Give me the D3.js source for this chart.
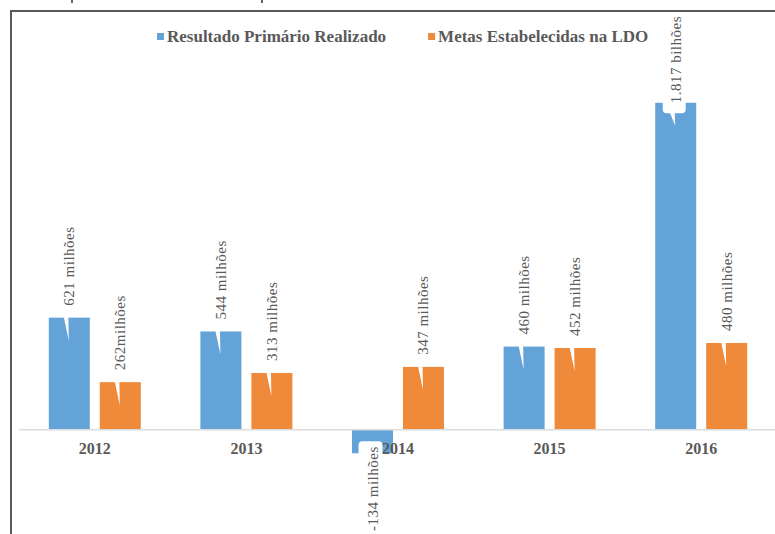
<!DOCTYPE html>
<html>
<head>
<meta charset="utf-8">
<script src="https://cdn.jsdelivr.net/npm/d3@7"></script>
<style>
  body { margin: 0; background: #fff; }
  text { font-family: "Liberation Serif", "Times New Roman", serif; }
</style>
</head>
<body>
<div id="chart"></div>
<script>
// data
var years = ["2012", "2013", "2014", "2015", "2016"];
var series = ["Resultado Primário Realizado", "Metas Estabelecidas na LDO"];
var realizado = [621, 544, -134, 460, 1817];
var metas = [262, 313, 347, 452, 480];
var realizadoLabels = ["621 milhões", "544 milhões", "-134 milhões", "460 milhões", "1.817 bilhões"];
var metasLabels = ["262milhões", "313 milhões", "347 milhões", "452 milhões", "480 milhões"];
var colors = ["#64a3d8", "#f08a3b"];

var width = 775, height = 534;

var svg = d3.select("#chart").append("svg")
    .attr("width", width)
    .attr("height", height);

// frame (cut from a larger page)
svg.append("line").attr("x1", 10).attr("x2", width).attr("y1", 11).attr("y2", 11)
    .attr("stroke", "#5a5a5a").attr("stroke-width", 2);
svg.append("line").attr("x1", 11).attr("x2", 11).attr("y1", 10).attr("y2", height)
    .attr("stroke", "#5a5a5a").attr("stroke-width", 2);
[72, 262].forEach(function(x) {
  svg.append("line").attr("x1", x).attr("x2", x).attr("y1", 0).attr("y2", 3)
      .attr("stroke", "#333").attr("stroke-width", 1.5);
});

//scales
var x0 = d3.scaleBand().domain(years).range([19, 777]);
var x1 = d3.scaleBand().domain(series).range([x0.bandwidth() / 2 - 46, x0.bandwidth() / 2 + 46]).paddingInner(0.196);
var y = d3.scaleLinear().domain([-600, 2300]).range([537, 16]);
var plotTop = 16;

var data = [];
years.forEach(function(yr, i) {
  data.push({year: yr, s: series[0], v: realizado[i], label: realizadoLabels[i], c: colors[0]});
  data.push({year: yr, s: series[1], v: metas[i], label: metasLabels[i], c: colors[1]});
});

//bars
svg.append("g").selectAll("rect")
    .data(data)
    .join("rect")
    .attr("x", function(d) { return x0(d.year) + x1(d.s); })
    .attr("width", x1.bandwidth())
    .attr("y", function(d) { return y(Math.max(0, d.v)); })
    .attr("height", function(d) { return Math.abs(y(d.v) - y(0)); })
    .attr("fill", function(d) { return d.c; });

//baseline
svg.append("line")
    .attr("x1", 19).attr("x2", width)
    .attr("y1", y(0) + 0.5).attr("y2", y(0) + 0.5)
    .attr("stroke", "#dcdcdc").attr("stroke-width", 1.5);

//data labels with callouts
var lab = svg.append("g");
data.forEach(function(d) {
  var cx = x0(d.year) + x1(d.s) + x1.bandwidth() / 2;
  var t = lab.append("text")
      .attr("font-size", 15)
      .attr("fill", "#595959")
      .attr("letter-spacing", 0.5)
      .text(d.label);
  var len = t.node().getComputedTextLength();
  var start, end, boxTop, boxBottom;
  if (d.v >= 0) {
    var top = y(d.v);
    start = Math.max(top - 12, plotTop + len);
    end = start - len;
    boxTop = end - 4;
    boxBottom = start + 10;
    t.attr("text-anchor", "start");
    // callout box + pointer (white)
    lab.insert("rect", "text")
        .attr("x", cx - 13).attr("width", 23)
        .attr("y", boxTop).attr("height", boxBottom - boxTop)
        .attr("rx", 4).attr("fill", "#fff");
    lab.insert("path", "text")
        .attr("d", "M" + (cx - 6) + "," + (boxBottom - 1) + "L" + (cx - 1) + "," + (boxBottom - 1) +
                   "L" + (cx - 0.5) + "," + (top + 23) + "Z")
        .attr("fill", "#fff");
    t.attr("transform", "translate(" + (cx + 5) + "," + start + ") rotate(-90)");
  } else {
    var bottom = y(d.v);
    end = Math.min(bottom - 7, height - 3 - len);
    boxTop = bottom - 12;
    boxBottom = end + len + 4;
    t.attr("text-anchor", "end");
    lab.insert("rect", "text")
        .attr("x", cx - 14).attr("width", 24)
        .attr("y", boxTop).attr("height", boxBottom - boxTop)
        .attr("rx", 4).attr("fill", "#fff");
    t.attr("transform", "translate(" + (cx + 5) + "," + end + ") rotate(-90)");
  }
});

//category labels
svg.append("g").selectAll("text")
    .data(years)
    .join("text")
    .attr("x", function(d) { return x0(d) + x0.bandwidth() / 2; })
    .attr("y", 454)
    .attr("text-anchor", "middle")
    .attr("font-size", 16)
    .attr("font-weight", "bold")
    .attr("fill", "#595959")
    .text(function(d) { return d; });

//legend
var legend = svg.append("g");
var lx = 157;
series.forEach(function(s, i) {
  legend.append("rect").attr("x", lx).attr("y", 33).attr("width", 7).attr("height", 7).attr("fill", colors[i]);
  var t = legend.append("text")
      .attr("x", lx + 10).attr("y", 42)
      .attr("font-size", 17)
      .attr("font-weight", "bold")
      .attr("fill", "#595959")
      .text(s);
  lx = lx + 10 + t.node().getComputedTextLength() + 42;
});
</script>
</body>
</html>
